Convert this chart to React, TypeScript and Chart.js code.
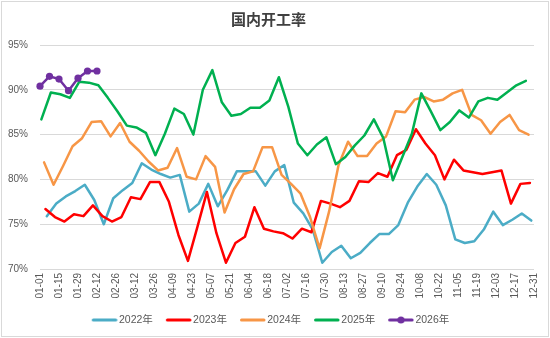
import React, { useEffect, useRef } from 'react';
import { Chart, registerables } from 'chart.js';

Chart.register(...registerables);

const TITLE = '国内开工率';

const X_TICK_LABELS = [
  '01-01', '01-15', '01-29', '02-12', '02-26', '03-12', '03-26', '04-09', '04-23',
  '05-07', '05-21', '06-04', '06-18', '07-02', '07-16', '07-30', '08-13', '08-27',
  '09-10', '09-24', '10-08', '10-22', '11-05', '11-19', '12-03', '12-17', '12-31',
];
const Y_TICKS = [70, 75, 80, 85, 90, 95];

const SERIES_NAMES = ['2022年', '2023年', '2024年', '2025年', '2026年'];
// first weekly observation date of each year (month-day)
const FIRST_DATES = ['01-06', '01-05', '01-04', '01-02', '01-01'];
const WEEK_STEP_DAYS = 7;

const v2022 = [
  75.9, 77.3, 78.1, 78.7, 79.4, 77.7, 75.0, 77.9, 78.8, 79.6, 81.8, 81.1, 80.6,
  80.2, 80.5, 76.4, 77.3, 79.5, 77.0, 78.8, 80.9, 80.9, 80.9, 79.3, 80.9, 81.6,
  77.4, 76.2, 74.4, 70.7, 71.9, 72.6, 71.2, 71.8, 72.9, 73.9, 73.9, 74.9, 77.4,
  79.2, 80.6, 79.4, 77.1, 73.3, 72.9, 73.1, 74.4, 76.4, 74.9, 75.5, 76.2, 75.4,
];
const v2023 = [
  76.7, 75.8, 75.3, 76.1, 75.9, 77.1, 75.9, 75.3, 75.8, 78.0, 77.8, 79.7, 79.7,
  77.5, 73.8, 70.9, 74.7, 78.6, 74.0, 70.7, 72.9, 73.6, 76.9, 74.5, 74.2, 74.0,
  73.4, 74.5, 74.1, 77.6, 77.3, 76.9, 77.6, 79.8, 79.7, 80.7, 80.3, 82.7, 83.3,
  85.6, 84.0, 82.7, 80.0, 82.2, 81.0, 80.8, 80.6, 80.8, 81.0, 77.3, 79.5, 79.6,
];
const v2024 = [
  81.9, 79.4, 81.5, 83.7, 84.6, 86.4, 86.5, 84.8, 86.3, 84.2, 83.2, 82.0, 81.0,
  81.3, 83.5, 80.3, 80.0, 82.6, 81.4, 76.3, 78.9, 80.6, 80.9, 83.6, 83.6, 80.5,
  79.5, 78.4, 75.8, 72.3, 76.4, 81.6, 84.2, 82.6, 82.6, 84.0, 84.8, 87.6, 87.5,
  88.9, 89.2, 88.7, 88.9, 89.6, 90.0, 87.2, 86.6, 85.1, 86.4, 87.2, 85.5, 85.0,
];
const v2025 = [
  86.7, 89.7, 89.5, 89.1, 90.9, 90.8, 90.5, 89.1, 87.6, 86.0, 85.8, 85.2, 82.7,
  85.1, 87.9, 87.3, 85.0, 90.0, 92.2, 88.6, 87.1, 87.3, 88.0, 88.0, 88.8, 91.4,
  88.1, 84.0, 82.7, 83.9, 84.7, 81.7, 82.5, 83.8, 84.9, 86.7, 84.6, 79.9, 82.5,
  85.1, 89.6, 87.6, 85.5, 86.4, 87.7, 86.9, 88.7, 89.1, 88.9, 89.7, 90.5, 91.0,
];
const v2026 = [90.4, 91.5, 91.2, 89.9, 91.3, 92.1, 92.1];

const SERIES_VALUES = [v2022, v2023, v2024, v2025, v2026];
const SERIES_COLORS = ['#4bacc6', '#ff0000', '#f79646', '#00b050', '#7030a0'];
const SERIES_MARKERS = [false, false, false, false, true];

const MONTH_DAYS = [31, 28, 31, 30, 31, 30, 31, 31, 30, 31, 30, 31];
function dayOfYear(md: string): number {
  const [m, d] = md.split('-').map(Number);
  let n = 0;
  for (let i = 0; i < m - 1; i++) n += MONTH_DAYS[i];
  return n + d - 1;
}

const FONT = "'Liberation Sans', 'Noto Sans CJK SC', sans-serif";

function legendImage(color: string, marker: boolean): HTMLCanvasElement {
  const c = document.createElement('canvas');
  c.width = 34;
  c.height = 10;
  const g = c.getContext('2d')!;
  g.strokeStyle = color;
  g.lineWidth = 3;
  g.lineCap = 'round';
  g.beginPath();
  g.moveTo(9.5, 5);
  g.lineTo(32, 5);
  g.stroke();
  if (marker) {
    g.fillStyle = color;
    g.beginPath();
    g.arc(20.8, 5, 3.6, 0, Math.PI * 2);
    g.fill();
  }
  return c;
}

const borderPlugin = {
  id: 'chartBorder',
  beforeDraw(chart: any) {
    const { ctx, width, height } = chart;
    ctx.save();
    ctx.fillStyle = '#ffffff';
    ctx.fillRect(0, 0, width, height);
    ctx.strokeStyle = '#d9d9d9';
    ctx.lineWidth = 1;
    ctx.strokeRect(1.5, 1.5, width - 3, height - 3);
    ctx.restore();
  },
};

export default function App() {
  const ref = useRef<HTMLCanvasElement | null>(null);

  useEffect(() => {
    if (!ref.current) return;
    const tickDays = X_TICK_LABELS.map(dayOfYear);
    const images = SERIES_COLORS.map((c, i) => legendImage(c, SERIES_MARKERS[i]));

    const datasets = SERIES_NAMES.map((name, si) => {
      const start = dayOfYear(FIRST_DATES[si]);
      return {
        label: name,
        data: SERIES_VALUES[si].map((y, i) => ({ x: start + i * WEEK_STEP_DAYS, y })),
        borderColor: SERIES_COLORS[si],
        backgroundColor: SERIES_COLORS[si],
        borderWidth: 2.5,
        pointRadius: SERIES_MARKERS[si] ? 3.6 : 0,
        pointHoverRadius: 0,
        pointBorderWidth: 0,
        pointBackgroundColor: SERIES_COLORS[si],
        tension: 0,
        borderCapStyle: 'round',
        borderJoinStyle: 'round',
        order: SERIES_NAMES.length - 1 - si,
        fill: false,
        clip: 8,
      };
    });

    const chart = new Chart(ref.current, {
      type: 'line',
      data: { datasets } as any,
      plugins: [borderPlugin],
      options: {
        responsive: false,
        animation: false,
        layout: { padding: { top: 0, right: 13, bottom: 2.75, left: 0 } },
        plugins: {
          title: {
            display: true,
            text: TITLE,
            color: '#404040',
            font: { size: 15, weight: 'bold', family: "'Noto Sans CJK SC', sans-serif", lineHeight: 1.2 },
            padding: { top: 10.7, bottom: 16.3 },
          },
          legend: {
            position: 'bottom',
            labels: {
              usePointStyle: true,
              pointStyleWidth: 26,
              padding: 9,
              color: '#595959',
              font: { size: 10.5, family: FONT },
              generateLabels: (ch: any) =>
                ch.data.datasets.map((ds: any, i: number) => ({
                  text: ds.label,
                  pointStyle: images[i],
                  fillStyle: SERIES_COLORS[i],
                  strokeStyle: SERIES_COLORS[i],
                  lineWidth: 0,
                  hidden: false,
                  datasetIndex: i,
                  fontColor: '#595959',
                })),
            },
          },
          tooltip: { enabled: false },
        },
        scales: {
          x: {
            type: 'linear',
            min: 0,
            max: 364,
            grid: { display: false, drawTicks: false },
            border: { display: false },
            afterBuildTicks: (s: any) => {
              s.ticks = tickDays.map((v) => ({ value: v }));
            },
            afterFit: (s: any) => {
              s.height = 36.75;
            },
            ticks: {
              autoSkip: false,
              minRotation: 90,
              maxRotation: 90,
              padding: 4,
              color: '#595959',
              font: { size: 10, family: FONT },
              callback: (_v: any, i: number) => X_TICK_LABELS[i],
            },
          },
          y: {
            min: 70,
            max: 95,
            grid: { color: '#d9d9d9', drawTicks: false, lineWidth: 1 },
            border: { display: false },
            afterBuildTicks: (s: any) => {
              s.ticks = Y_TICKS.map((v) => ({ value: v }));
            },
            afterFit: (s: any) => {
              s.width = 40;
            },
            ticks: {
              padding: 12,
              color: '#595959',
              font: { size: 10, family: FONT },
              callback: (v: any) => v + '%',
            },
          },
        },
      } as any,
    });
    return () => chart.destroy();
  }, []);

  return (
    <div style={{ position: 'fixed', left: 0, top: 0, width: 550, height: 338 }}>
      <canvas ref={ref} width={550} height={338} style={{ display: 'block' }} />
    </div>
  );
}
